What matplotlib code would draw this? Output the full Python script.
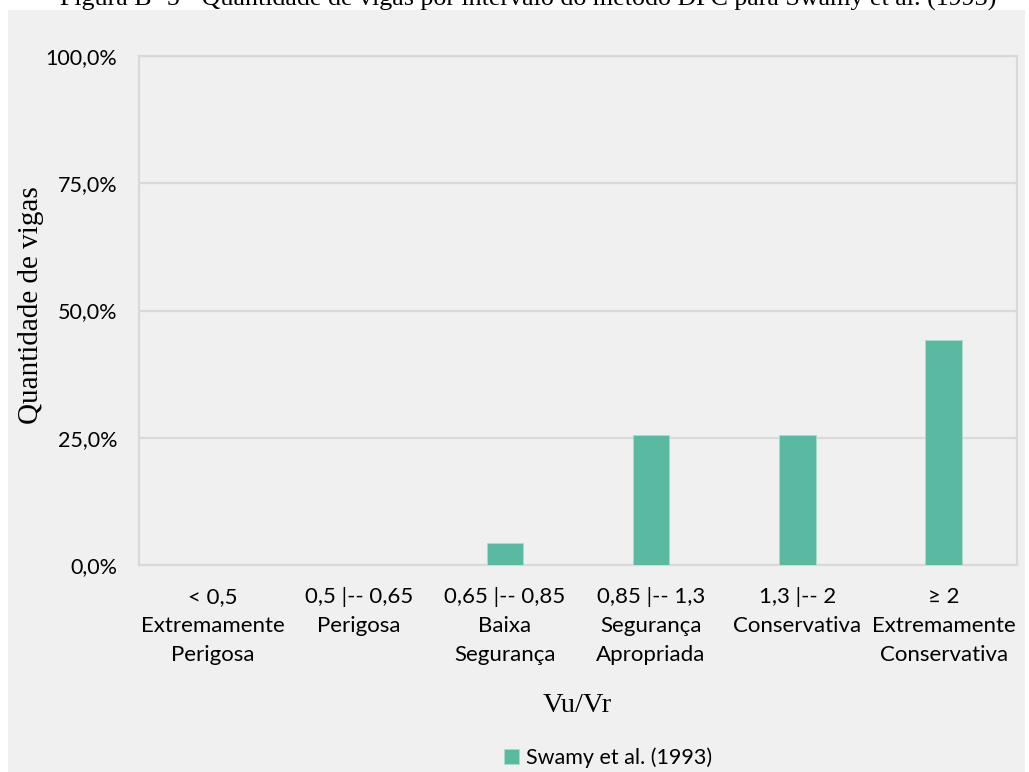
import matplotlib
matplotlib.use("Agg")
import matplotlib.pyplot as plt
from matplotlib.patches import Rectangle
from matplotlib.ticker import FixedLocator

# Data
categories = [
    "< 0,5\nExtremamente\nPerigosa",
    "0,5 |-- 0,65\nPerigosa",
    "0,65 |-- 0,85\nBaixa\nSegurança",
    "0,85 |-- 1,3\nSegurança\nApropriada",
    "1,3 |-- 2\nConservativa",
    "≥ 2\nExtremamente\nConservativa",
]
values = [0.0, 0.0, 4.4, 25.6, 25.6, 44.2]  # percent of beams
y_ticks = [0, 25, 50, 75, 100]
y_tick_labels = ["0,0%", "25,0%", "50,0%", "75,0%", "100,0%"]
series_name = "Swamy et al. (1993)"
title = "Figura B- 5 - Quantidade de vigas por intervalo do método DPC para Swamy et al. (1993)"

W, H = 1029, 772
DPI = 100
BAR_COLOR = "#5ab9a1"
GRID_COLOR = "#d9d9d9"
BG = "#f0f0f0"
SANS = ["Lato", "DejaVu Sans"]
SERIF = ["Liberation Serif", "DejaVu Serif"]

fig = plt.figure(figsize=(W / DPI, H / DPI), dpi=DPI, facecolor="white")

# chart background panel
fig.patches.append(Rectangle((8 / W, 0), (1025 - 8) / W, (H - 10) / H,
                             transform=fig.transFigure, facecolor=BG,
                             edgecolor="none", zorder=-5))

# caption line above the panel
fig.text(528 / W, 1 - 6 / H, title, ha="center", va="baseline",
         fontsize=18.7, family=SERIF, color="black", zorder=-4)

left, right, top, bottom = 139.3, 1016.7, 56, 565
ax = fig.add_axes([left / W, 1 - bottom / H, (right - left) / W, (bottom - top) / H])
ax.set_facecolor(BG)

x = list(range(len(categories)))
ax.bar(x, values, width=0.25, color=BAR_COLOR, edgecolor="#a9dccd",
       linewidth=0.6, zorder=3, label=series_name)

ax.set_xlim(-0.5, len(categories) - 0.5)
ax.set_ylim(0, 100)
ax.yaxis.set_major_locator(FixedLocator(y_ticks))
ax.set_yticklabels(y_tick_labels, fontsize=15.5, family=SANS)
ax.set_xticks(x)
ax.set_xticklabels(categories, fontsize=16, family=SANS, linespacing=1.55)
ax.tick_params(axis="both", length=0)
ax.tick_params(axis="y", pad=16)
ax.tick_params(axis="x", pad=16)

ax.grid(axis="y", color=GRID_COLOR, linewidth=1.6, zorder=0)
for s in ax.spines.values():
    s.set_color(GRID_COLOR)
    s.set_linewidth(1.6)

fig.text(577 / W, 1 - 705 / H, "Vu/Vr", ha="center", va="center",
         fontsize=20.5, family=SERIF)
fig.text(31 / W, 1 - 305 / H, "Quantidade de vigas", ha="center", va="center",
         rotation=90, fontsize=21, family=SERIF)

fig.legend(loc="center", bbox_to_anchor=(608 / W, 1 - 758 / H), frameon=False,
           prop={"family": SANS, "size": 15.5}, handlelength=0.7, handleheight=0.7,
           handletextpad=0.3, borderaxespad=0)

fig.savefig("out.png", dpi=DPI, facecolor="white")
